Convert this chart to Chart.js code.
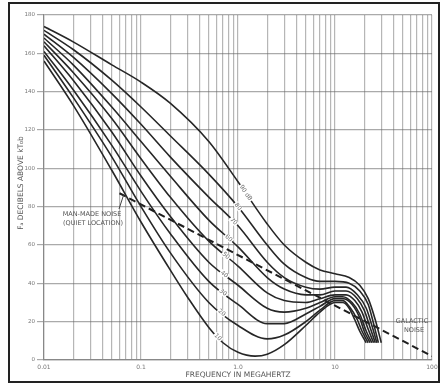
<!DOCTYPE html>
<html>
<head>
<meta charset="utf-8">
<script src="https://cdn.jsdelivr.net/npm/chart.js@4"></script>
<style>
  html, body { margin: 0; padding: 0; background: #fff; }
</style>
</head>
<body>
<canvas id="noiseChart" width="442" height="385"></canvas>
<script>
// atmospheric noise curves (MHz, dB above kT0b)
const c90f = [0.01, 0.02, 0.05, 0.1, 0.2, 0.5, 1, 2, 3, 5, 7, 10, 14, 18, 22, 26, 30];
const c90v = [174, 166, 154, 145, 134, 114, 93, 71, 60, 51, 47, 45, 43, 39, 32, 21, 9];
const c80f = [0.01, 0.02, 0.05, 0.1, 0.2, 0.5, 1, 2, 3, 5, 7, 10, 14, 18, 22, 25, 28];
const c80v = [172, 162, 146, 132, 117, 97, 80, 60, 50, 43, 41, 41, 40, 36, 29, 19, 9];
const c70f = [0.01, 0.02, 0.05, 0.1, 0.2, 0.5, 1, 2, 3, 5, 7, 10, 13, 17, 21, 24, 27];
const c70v = [170, 158, 139, 123, 106, 85, 70, 51, 43, 38, 37, 38, 38, 34, 27, 18, 9];
const c60f = [0.01, 0.02, 0.05, 0.1, 0.2, 0.5, 1, 2, 3, 5, 7, 10, 13, 17, 20, 23, 26];
const c60v = [168, 154, 132, 114, 96, 73, 59, 43, 37, 34, 34, 36, 36, 32, 26, 17, 9];
const c50f = [0.01, 0.02, 0.05, 0.1, 0.2, 0.5, 1, 2, 3, 5, 7, 10, 13, 16, 19, 22, 25];
const c50v = [166, 150, 126, 105, 85, 62, 49, 35, 31, 30, 32, 34, 34, 31, 25, 16, 9];
const c40f = [0.01, 0.02, 0.05, 0.1, 0.2, 0.5, 1, 2, 3, 5, 7, 10, 12, 15, 18, 21, 24];
const c40v = [164, 146, 119, 96, 75, 51, 39, 27, 25, 27, 30, 33, 33, 30, 24, 15, 9];
const c30f = [0.01, 0.02, 0.05, 0.1, 0.2, 0.5, 1, 2, 3, 5, 7, 10, 12, 15, 18, 20, 23];
const c30v = [161, 141, 112, 88, 66, 41, 29, 19, 19, 24, 28, 32, 32, 29, 22, 15, 9];
const c20f = [0.01, 0.02, 0.05, 0.1, 0.2, 0.5, 1, 2, 3, 5, 7, 10, 12, 14, 17, 19, 22];
const c20v = [159, 137, 106, 80, 56, 30, 18, 11, 13, 20, 26, 31, 31, 28, 21, 15, 9];
const c10f = [0.01, 0.02, 0.05, 0.1, 0.2, 0.3, 0.5, 0.7, 1, 1.5, 2, 3, 5, 7, 10, 12, 14, 16, 18, 21];
const c10v = [156, 133, 99, 72, 47, 33, 17, 9, 4, 2, 3, 8, 18, 25, 30, 30, 27, 21, 15, 9];

const curveLabels = ['90 dB', '80', '70', '60', '50', '40', '30', '20', '10'];
const curveLabelFreq = [1.2, 1.0, 0.9, 0.8, 0.75, 0.72, 0.7, 0.68, 0.62];

// man-made noise (quiet location) running into galactic noise
const manMadeF = [0.06, 100];
const manMadeV = [87, 2];

const xTickValues = [0.01, 0.1, 1, 10, 100];
const xTickLabels = ['0.01', '0.1', '1.0', '10', '100'];
const yTickValues = [0, 20, 40, 60, 80, 100, 120, 140, 160, 180];

const curves = [[c90f, c90v], [c80f, c80v], [c70f, c70v], [c60f, c60v], [c50f, c50v],
                [c40f, c40v], [c30f, c30v], [c20f, c20v], [c10f, c10v]];

const pts = (f, v) => f.map((x, i) => ({ x, y: v[i] }));

const datasets = curves.map(([f, v], i) => ({
  label: curveLabels[i],
  data: pts(f, v),
  borderColor: '#262626',
  borderWidth: 1.6,
  pointRadius: 0,
  cubicInterpolationMode: 'monotone'
}));
datasets.push({
  label: 'man-made',
  data: pts(manMadeF, manMadeV),
  borderColor: '#1e1e1e',
  borderWidth: 2,
  borderDash: [7, 4],
  pointRadius: 0
});

// grid lines at 1..9 of every decade
const xGrid = [];
for (let e = -2; e < 2; e++) for (let m = 1; m < 10; m++) xGrid.push(+(m * Math.pow(10, e)).toPrecision(3));
xGrid.push(100);

function valueAt(f, v, q) {
  for (let i = 0; i < f.length - 1; i++) {
    if (q >= f[i] && q <= f[i + 1]) {
      const t = (Math.log10(q) - Math.log10(f[i])) / (Math.log10(f[i + 1]) - Math.log10(f[i]));
      return v[i] + t * (v[i + 1] - v[i]);
    }
  }
  return v[v.length - 1];
}

const decor = {
  id: 'decor',
  beforeDraw(chart) {
    const c = chart.ctx;
    c.save();
    c.fillStyle = '#fff';
    c.fillRect(0, 0, chart.width, chart.height);
    c.restore();
  },
  afterDatasetsDraw(chart) {
    const c = chart.ctx;
    const xs = chart.scales.x, ys = chart.scales.y;
    c.save();
    // curve labels sitting on the curves
    c.font = '6px "DejaVu Sans"';
    c.textAlign = 'center';
    c.textBaseline = 'middle';
    curves.forEach(([f, v], i) => {
      const q = curveLabelFreq[i];
      const px = xs.getPixelForValue(q), py = ys.getPixelForValue(valueAt(f, v, q));
      const p1x = xs.getPixelForValue(q * 0.9), p1y = ys.getPixelForValue(valueAt(f, v, q * 0.9));
      const p2x = xs.getPixelForValue(q * 1.1), p2y = ys.getPixelForValue(valueAt(f, v, q * 1.1));
      const a = Math.atan2(p2y - p1y, p2x - p1x);
      const w = c.measureText(curveLabels[i]).width;
      c.save();
      c.translate(px, py);
      c.rotate(a);
      c.fillStyle = '#fff';
      c.fillRect(-w / 2 - 1, -3, w + 2, 6);
      c.fillStyle = '#666';
      c.fillText(curveLabels[i], 0, 0);
      c.restore();
    });

    // annotations
    c.fillStyle = '#555';
    c.font = '6.5px "DejaVu Sans"';
    c.fillText('MAN-MADE NOISE', 92, 214);
    c.fillText('(QUIET LOCATION)', 93, 223);
    c.fillText('GALACTIC', 412, 321);
    c.fillText('NOISE', 414, 330);
    const lx = xs.getPixelForValue(0.066), ly = ys.getPixelForValue(valueAt(manMadeF, manMadeV, 0.066));
    c.strokeStyle = '#444';
    c.lineWidth = 1;
    c.beginPath();
    c.moveTo(119, 209);
    c.lineTo(lx, ly);
    c.stroke();

    // axis titles
    c.font = '7.5px "DejaVu Sans"';
    c.fillStyle = '#555';
    c.fillText('FREQUENCY IN MEGAHERTZ', 238, 375);
    c.save();
    c.translate(21, 183);
    c.rotate(-Math.PI / 2);
    c.fillText('Fₐ DECIBELS ABOVE kT₀b', 0, 0);
    c.restore();

    // outer frame
    c.strokeStyle = '#222';
    c.lineWidth = 2;
    c.strokeRect(9, 3, 430, 379);
    c.restore();
  }
};

new Chart(document.getElementById('noiseChart'), {
  type: 'line',
  data: { datasets },
  plugins: [decor],
  options: {
    responsive: false,
    devicePixelRatio: 1,
    animation: false,
    layout: { padding: { top: 15, right: 10, left: 0, bottom: 0 } },
    plugins: { legend: { display: false }, tooltip: { enabled: false } },
    scales: {
      x: {
        type: 'logarithmic',
        min: 0.01,
        max: 100,
        afterBuildTicks: s => { s.ticks = xGrid.map(value => ({ value })); },
        afterFit: s => { s.height = 25; },
        grid: { color: 'rgba(110,110,110,0.5)', lineWidth: 1.2, drawTicks: false },
        border: { color: '#888', width: 1.2 },
        ticks: {
          autoSkip: false,
          maxRotation: 0,
          padding: 4,
          color: '#777',
          font: { family: 'DejaVu Sans', size: 6 },
          callback: v => { const k = xTickValues.indexOf(v); return k < 0 ? '' : xTickLabels[k]; }
        }
      },
      y: {
        min: 0,
        max: 180,
        afterBuildTicks: s => { s.ticks = yTickValues.map(value => ({ value })); },
        afterFit: s => { s.width = 44; },
        grid: { color: 'rgba(100,100,100,0.55)', lineWidth: 1.2, tickLength: 7 },
        border: { color: '#888', width: 1.2 },
        ticks: { color: '#777', padding: 2, font: { family: 'DejaVu Sans', size: 5.5 } }
      }
    }
  }
});
</script>
</body>
</html>
